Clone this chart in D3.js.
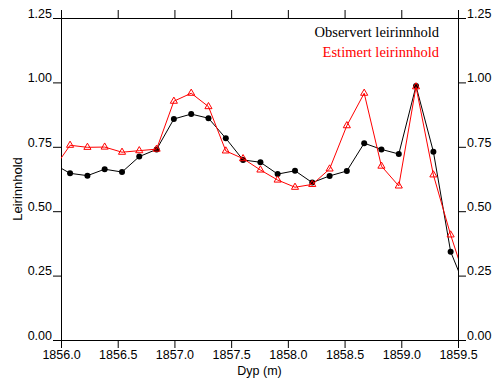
<!DOCTYPE html>
<html>
<head>
<meta charset="utf-8">
<script src="https://cdn.jsdelivr.net/npm/d3@7"></script>
<style>
  body { margin: 0; background: #fff; }
</style>
</head>
<body>
<div id="chart"></div>
<script>
// Depth (m) of each sample, incl. one point past each edge (clipped)
const depths = [1855.928, 1856.080, 1856.233, 1856.385, 1856.538, 1856.690, 1856.843,
  1856.995, 1857.148, 1857.300, 1857.453, 1857.605, 1857.758, 1857.910, 1858.063,
  1858.215, 1858.368, 1858.520, 1858.673, 1858.825, 1858.978, 1859.130, 1859.283,
  1859.435, 1859.588];

// Observed clay content
const observed = [0.685, 0.647, 0.638, 0.663, 0.652, 0.712, 0.740, 0.858, 0.877, 0.861,
  0.783, 0.699, 0.690, 0.644, 0.657, 0.611, 0.637, 0.656, 0.764, 0.740, 0.722, 0.986,
  0.731, 0.343, 0.177];

// Estimated clay content
const estimated = [0.660, 0.756, 0.748, 0.749, 0.729, 0.735, 0.741, 0.927, 0.958, 0.906,
  0.734, 0.704, 0.660, 0.621, 0.593, 0.604, 0.664, 0.832, 0.958, 0.675, 0.598, 0.983,
  0.641, 0.408, 0.202];

const xTicks = [1856.0, 1856.5, 1857.0, 1857.5, 1858.0, 1858.5, 1859.0, 1859.5];
const yTicks = [0, 0.25, 0.5, 0.75, 1.0, 1.25];

const width = 496, height = 383;
const margin = {top: 18, right: 38, bottom: 43, left: 61};

const x = d3.scaleLinear().domain([1856, 1859.5]).range([margin.left, width - margin.right]);
const y = d3.scaleLinear().domain([0, 1.25]).range([height - margin.bottom, margin.top]);

const svg = d3.select("#chart").append("svg")
  .attr("width", width)
  .attr("height", height)
  .style("font-family", "'Liberation Sans', Arial, sans-serif");

svg.append("clipPath").attr("id", "plot")
  .append("rect")
  .attr("x", margin.left).attr("y", margin.top)
  .attr("width", x.range()[1] - x.range()[0])
  .attr("height", y.range()[0] - y.range()[1]);

// axes
const tickLen = 8;
function styleAxis(g) {
  g.select(".domain").attr("stroke", "#000");
  g.selectAll(".tick line").attr("stroke", "#000");
  g.selectAll(".tick text").attr("fill", "#000").style("font-size", "12.5px");
}

svg.append("g")
  .attr("transform", `translate(0,${y(0)})`)
  .call(d3.axisBottom(x).tickValues(xTicks).tickFormat(d3.format(".1f")).tickSizeOuter(0).tickSize(tickLen).tickPadding(2))
  .call(styleAxis);

svg.append("g")
  .attr("transform", `translate(0,${y(1.25)})`)
  .call(d3.axisTop(x).tickValues(xTicks).tickFormat("").tickSizeOuter(0).tickSize(tickLen))
  .call(styleAxis);

svg.append("g")
  .attr("transform", `translate(${x(1856)},0)`)
  .call(d3.axisLeft(y).tickValues(yTicks).tickFormat(d3.format(".2f")).tickSizeOuter(0).tickSize(tickLen).tickPadding(1))
  .call(styleAxis)
  .call(g => g.selectAll(".tick text").attr("dy", "-0.05em"));

svg.append("g")
  .attr("transform", `translate(${x(1859.5)},0)`)
  .call(d3.axisRight(y).tickValues(yTicks).tickFormat(d3.format(".2f")).tickSizeOuter(0).tickSize(tickLen).tickPadding(1))
  .call(styleAxis)
  .call(g => g.selectAll(".tick text").attr("dy", "-0.05em"));

// axis titles
svg.append("text")
  .attr("x", (x.range()[0] + x.range()[1]) / 2)
  .attr("y", 375)
  .attr("text-anchor", "middle")
  .style("font-size", "12.5px")
  .text("Dyp (m)");

svg.append("text")
  .attr("transform", `translate(22,${(y.range()[0] + y.range()[1]) / 2 + 10}) rotate(-90)`)
  .attr("text-anchor", "middle")
  .style("font-size", "13px")
  .text("Leirinnhold");

// series
const series = [
  {name: "Observert leirinnhold", values: observed, color: "#000"},
  {name: "Estimert leirinnhold", values: estimated, color: "#ff0000"}
];

const line = d3.line().x(d => x(d[0])).y(d => y(d[1]));
const plot = svg.append("g").attr("clip-path", "url(#plot)");

series.forEach((s, i) => {
  const pts = depths.map((d, j) => [d, s.values[j]]);
  plot.append("path")
    .datum(pts)
    .attr("fill", "none")
    .attr("stroke", s.color)
    .attr("stroke-width", 1)
    .attr("d", line);

  const inside = pts.filter(p => p[0] >= 1856 && p[0] <= 1859.5);
  if (i === 0) {
    plot.append("g").selectAll("circle")
      .data(inside)
      .join("circle")
        .attr("cx", d => x(d[0]))
        .attr("cy", d => y(d[1]))
        .attr("r", 3)
        .attr("fill", "#000");
  } else {
    plot.append("g").selectAll("path")
      .data(inside)
      .join("path")
        .attr("transform", d => `translate(${x(d[0])},${y(d[1])})`)
        .attr("d", d3.symbol(d3.symbolTriangle, 22))
        .attr("fill", "none")
        .attr("stroke", s.color)
        .attr("stroke-width", 1);
  }
});

// legend
svg.append("g")
  .style("font-family", "'Liberation Serif', 'Times New Roman', serif")
  .style("font-size", "14.5px")
  .attr("text-anchor", "end")
  .selectAll("text")
  .data(series)
  .join("text")
    .attr("x", 439)
    .attr("y", (d, i) => 37 + i * 20)
    .attr("fill", d => d.color)
    .text(d => d.name);
</script>
</body>
</html>
